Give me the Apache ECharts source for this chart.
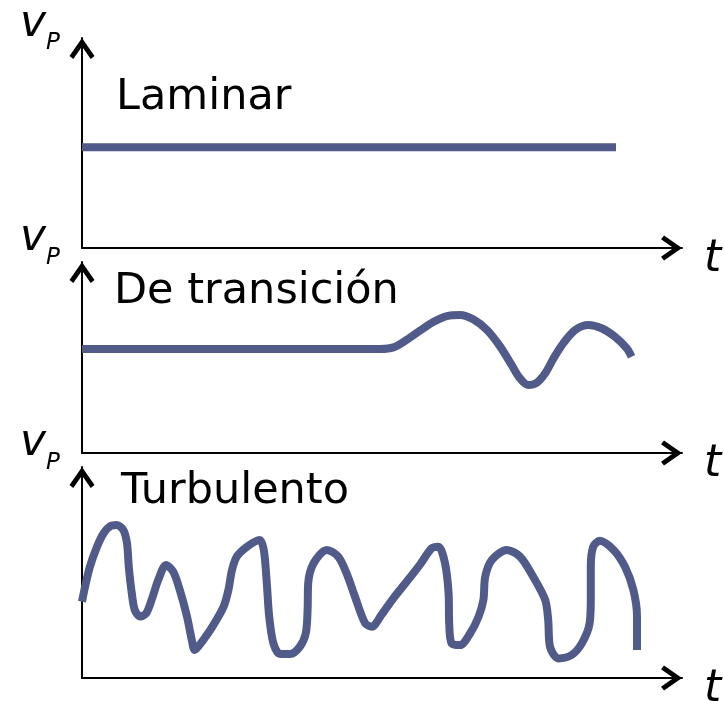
<!DOCTYPE html>
<html>
<head>
<meta charset="utf-8">
<script src="https://cdn.jsdelivr.net/npm/echarts@6/dist/echarts.min.js"></script>
<style>
  html, body { margin: 0; padding: 0; background: #ffffff; }
  #chart { width: 724px; height: 701px; }
</style>
</head>
<body>
<div id="chart"></div>
<script>
// ---- Data (t, v_P), arbitrary units ----
const panelTitles = ['Laminar', 'De transición', 'Turbulento'];
const yAxisSymbol = 'v';
const yAxisSubscript = 'P';
const xAxisSymbol = 't';

const laminar = [[0, 4.8], [8.9, 4.8]];

const transicion = [
  [0, 5.45], [4.63, 5.45], [4.97, 5.45], [5.19, 5.53], [5.41, 5.92], [5.63, 6.40],
  [5.86, 6.87], [6.08, 7.17], [6.30, 7.23], [6.52, 7.00], [6.75, 6.44], [6.97, 5.57],
  [7.16, 4.61], [7.30, 3.91], [7.44, 3.56], [7.58, 3.68], [7.72, 4.17], [7.86, 4.96],
  [8.02, 5.74], [8.22, 6.44], [8.44, 6.70], [8.66, 6.53], [8.88, 6.09], [9.08, 5.48],
  [9.16, 5.04]
];

const turbulento = [
  [0.00, 3.62], [0.05, 4.31], [0.13, 5.26], [0.25, 6.22], [0.36, 6.86], [0.47, 7.20],
  [0.58, 7.25], [0.69, 7.01], [0.75, 6.38], [0.78, 5.27], [0.83, 4.01], [0.88, 3.22],
  [0.97, 2.91], [1.07, 3.07], [1.16, 3.70], [1.27, 4.64], [1.40, 5.36], [1.52, 5.04],
  [1.63, 4.17], [1.75, 2.91], [1.83, 1.80], [1.88, 1.33], [2.02, 1.80], [2.19, 2.51],
  [2.36, 3.38], [2.44, 4.17], [2.50, 5.12], [2.58, 5.75], [2.75, 6.22], [2.96, 6.54],
  [3.03, 6.07], [3.08, 4.49], [3.12, 2.91], [3.19, 1.64], [3.30, 1.14], [3.47, 1.14],
  [3.63, 1.48], [3.73, 2.12], [3.76, 3.22], [3.77, 4.49], [3.86, 5.44], [4.08, 6.07],
  [4.27, 5.75], [4.41, 4.96], [4.55, 3.85], [4.72, 2.59], [4.83, 2.43], [4.99, 2.99],
  [5.19, 3.78], [5.41, 4.56], [5.63, 5.36], [5.83, 6.15], [5.94, 6.22], [6.05, 5.44],
  [6.11, 4.01], [6.12, 2.59], [6.16, 1.64], [6.30, 1.56], [6.47, 2.12], [6.61, 2.91],
  [6.69, 3.70], [6.72, 4.80], [6.83, 5.59], [7.08, 6.07], [7.30, 5.75], [7.52, 4.80],
  [7.72, 3.70], [7.77, 2.75], [7.80, 1.48], [7.94, 0.93], [8.16, 1.09], [8.33, 1.64],
  [8.46, 2.59], [8.48, 3.85], [8.48, 5.27], [8.52, 6.22], [8.63, 6.51], [8.86, 6.07],
  [9.05, 5.27], [9.19, 4.17], [9.25, 2.91], [9.25, 1.33]
];

const seriesData = [laminar, transicion, turbulento];

// ---- Layout ----
const grids = [
  { left: 82, top: 38, width: 600, height: 210 },
  { left: 82, top: 262, width: 600, height: 191 },
  { left: 82, top: 467, width: 600, height: 211 }
];
const lineColor = '#505B89';
const FONT = 'DejaVu Sans';

// open chevron arrow pointing up
const chevron = 'path://M12.5,0 L25,18 L21.2,21 L12.5,8.5 L3.8,21 L0,18 Z';

function axisLine() {
  return {
    show: true,
    onZero: false,
    symbol: ['none', chevron],
    symbolSize: [25, 21],
    symbolOffset: [0, -10.5],
    lineStyle: { color: '#000', width: 2 }
  };
}

const xAxes = grids.map((g, i) => ({
  type: 'value', gridIndex: i, min: 0, max: 10,
  axisLine: axisLine(), axisTick: { show: false }, axisLabel: { show: false },
  splitLine: { show: false }
}));
const yAxes = grids.map((g, i) => ({
  type: 'value', gridIndex: i, min: 0, max: 10,
  axisLine: axisLine(), axisTick: { show: false }, axisLabel: { show: false },
  splitLine: { show: false }
}));

const series = seriesData.map((d, i) => ({
  type: 'line', xAxisIndex: i, yAxisIndex: i, data: d,
  smooth: i === 0 ? false : 0.3,
  showSymbol: false, clip: false,
  lineStyle: { color: lineColor, width: 8, cap: 'butt', join: 'round' },
  itemStyle: { color: lineColor },
  z: 3
}));

// text annotations
const titleMid = [98, 292, 492];
const titleX = [116, 114, 121];
const vMid = [25, 239, 444];
const pMid = [43, 258, 463];
const tMid = [259.6, 464.6, 689.6];

const graphics = [];
grids.forEach((g, i) => {
  graphics.push({
    type: 'text', left: titleX[i], top: titleMid[i] - 21.5, z: 10,
    style: { text: panelTitles[i], font: '43px "' + FONT + '"', fill: '#000' }
  });
  graphics.push({
    type: 'text', x: 20, y: vMid[i], z: 10,
    style: { text: yAxisSymbol, font: 'italic 44px "' + FONT + '"', fill: '#000',
             verticalAlign: 'middle', align: 'left' }
  });
  graphics.push({
    type: 'text', x: 46, y: pMid[i], z: 10,
    style: { text: yAxisSubscript, font: 'italic 23px "' + FONT + '"', fill: '#000',
             verticalAlign: 'middle', align: 'left' }
  });
  graphics.push({
    type: 'text', x: 704, y: tMid[i], z: 10,
    style: { text: xAxisSymbol, font: 'italic 44px "' + FONT + '"', fill: '#000',
             verticalAlign: 'middle', align: 'left' }
  });
});

const chart = echarts.init(document.getElementById('chart'), null, { renderer: 'canvas' });
chart.setOption({
  backgroundColor: '#ffffff',
  animation: false,
  grid: grids.map(g => Object.assign({ containLabel: false }, g)),
  xAxis: xAxes,
  yAxis: yAxes,
  series: series,
  graphic: graphics
});
</script>
</body>
</html>
